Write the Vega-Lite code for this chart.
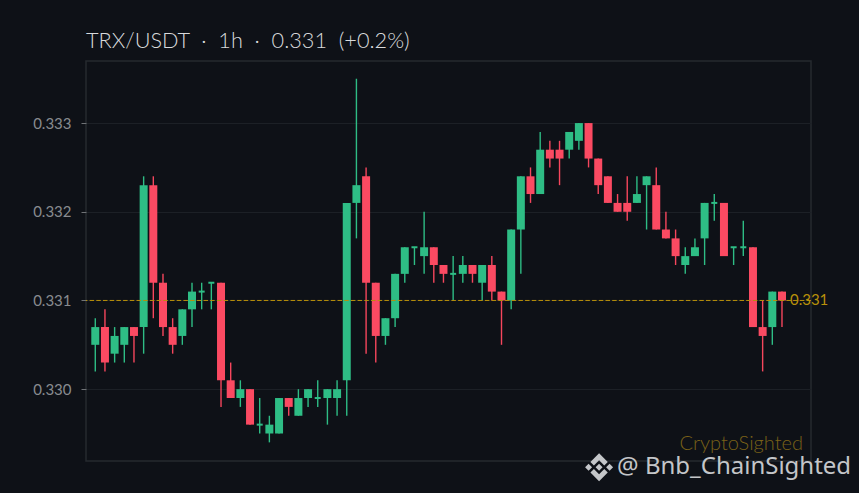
{
  "$schema": "https://vega.github.io/schema/vega-lite/v6.json",
  "width": 725,
  "height": 400,
  "autosize": "none",
  "padding": {"left": 86, "top": 61, "right": 48, "bottom": 32},
  "background": "#0e1117",
  "title": {
    "text": "TRX/USDT\u00a0\u00a0·\u00a0\u00a01h\u00a0\u00a0·\u00a0\u00a00.331\u00a0\u00a0(+0.2%)",
    "anchor": "start",
    "frame": "group",
    "color": "#d8dadc",
    "font": "Lato",
    "fontSize": 21.7,
    "fontWeight": 300,
    "offset": 8
  },
  "datasets": {
    "candles": [
      {"i":0,"open":0.3305,"high":0.3308,"low":0.3302,"close":0.3307},
      {"i":1,"open":0.3307,"high":0.3309,"low":0.3302,"close":0.3303},
      {"i":2,"open":0.3304,"high":0.3307,"low":0.3303,"close":0.3306},
      {"i":3,"open":0.3305,"high":0.3307,"low":0.3303,"close":0.3307},
      {"i":4,"open":0.3307,"high":0.3307,"low":0.3303,"close":0.3306},
      {"i":5,"open":0.3307,"high":0.3324,"low":0.3304,"close":0.3323},
      {"i":6,"open":0.3323,"high":0.3324,"low":0.3308,"close":0.3312},
      {"i":7,"open":0.3312,"high":0.3313,"low":0.3306,"close":0.3307},
      {"i":8,"open":0.3307,"high":0.3308,"low":0.3304,"close":0.3305},
      {"i":9,"open":0.3306,"high":0.3309,"low":0.3305,"close":0.3309},
      {"i":10,"open":0.3309,"high":0.3312,"low":0.3307,"close":0.3311},
      {"i":11,"open":0.3311,"high":0.3312,"low":0.3309,"close":0.3311},
      {"i":12,"open":0.3312,"high":0.3312,"low":0.3309,"close":0.3312},
      {"i":13,"open":0.3312,"high":0.3312,"low":0.3298,"close":0.3301},
      {"i":14,"open":0.3301,"high":0.3303,"low":0.3299,"close":0.3299},
      {"i":15,"open":0.3299,"high":0.3301,"low":0.3298,"close":0.33},
      {"i":16,"open":0.33,"high":0.33,"low":0.3296,"close":0.3296},
      {"i":17,"open":0.3296,"high":0.3299,"low":0.3295,"close":0.3296},
      {"i":18,"open":0.3295,"high":0.3297,"low":0.3294,"close":0.3296},
      {"i":19,"open":0.3295,"high":0.3299,"low":0.3295,"close":0.3299},
      {"i":20,"open":0.3299,"high":0.3299,"low":0.3297,"close":0.3298},
      {"i":21,"open":0.3297,"high":0.33,"low":0.3297,"close":0.3299},
      {"i":22,"open":0.3299,"high":0.33,"low":0.3298,"close":0.33},
      {"i":23,"open":0.3299,"high":0.3301,"low":0.3298,"close":0.3299},
      {"i":24,"open":0.3299,"high":0.33,"low":0.3296,"close":0.33},
      {"i":25,"open":0.3299,"high":0.3301,"low":0.3297,"close":0.33},
      {"i":26,"open":0.3301,"high":0.3321,"low":0.3297,"close":0.3321},
      {"i":27,"open":0.3321,"high":0.3335,"low":0.3317,"close":0.3323},
      {"i":28,"open":0.3324,"high":0.3325,"low":0.3304,"close":0.3312},
      {"i":29,"open":0.3312,"high":0.3312,"low":0.3303,"close":0.3306},
      {"i":30,"open":0.3306,"high":0.3308,"low":0.3305,"close":0.3308},
      {"i":31,"open":0.3308,"high":0.3313,"low":0.3307,"close":0.3313},
      {"i":32,"open":0.3313,"high":0.3316,"low":0.3312,"close":0.3316},
      {"i":33,"open":0.3316,"high":0.3316,"low":0.3314,"close":0.3316},
      {"i":34,"open":0.3315,"high":0.332,"low":0.3313,"close":0.3316},
      {"i":35,"open":0.3316,"high":0.3316,"low":0.3312,"close":0.3314},
      {"i":36,"open":0.3314,"high":0.3314,"low":0.3312,"close":0.3313},
      {"i":37,"open":0.3313,"high":0.3315,"low":0.331,"close":0.3313},
      {"i":38,"open":0.3313,"high":0.3315,"low":0.3312,"close":0.3314},
      {"i":39,"open":0.3314,"high":0.3314,"low":0.3312,"close":0.3313},
      {"i":40,"open":0.3312,"high":0.3314,"low":0.331,"close":0.3314},
      {"i":41,"open":0.3314,"high":0.3315,"low":0.331,"close":0.3311},
      {"i":42,"open":0.3311,"high":0.3311,"low":0.3305,"close":0.331},
      {"i":43,"open":0.331,"high":0.3318,"low":0.3309,"close":0.3318},
      {"i":44,"open":0.3318,"high":0.3324,"low":0.3313,"close":0.3324},
      {"i":45,"open":0.3324,"high":0.3325,"low":0.3321,"close":0.3322},
      {"i":46,"open":0.3322,"high":0.3329,"low":0.3322,"close":0.3327},
      {"i":47,"open":0.3327,"high":0.3328,"low":0.3325,"close":0.3326},
      {"i":48,"open":0.3327,"high":0.3328,"low":0.3323,"close":0.3326},
      {"i":49,"open":0.3327,"high":0.3329,"low":0.3326,"close":0.3329},
      {"i":50,"open":0.3328,"high":0.333,"low":0.3327,"close":0.333},
      {"i":51,"open":0.333,"high":0.333,"low":0.3325,"close":0.3326},
      {"i":52,"open":0.3326,"high":0.3326,"low":0.3322,"close":0.3323},
      {"i":53,"open":0.3324,"high":0.3324,"low":0.3321,"close":0.3321},
      {"i":54,"open":0.3321,"high":0.3322,"low":0.332,"close":0.332},
      {"i":55,"open":0.3321,"high":0.3324,"low":0.3319,"close":0.332},
      {"i":56,"open":0.3321,"high":0.3324,"low":0.3321,"close":0.3322},
      {"i":57,"open":0.3323,"high":0.3324,"low":0.3318,"close":0.3324},
      {"i":58,"open":0.3323,"high":0.3325,"low":0.3318,"close":0.3318},
      {"i":59,"open":0.3318,"high":0.332,"low":0.3317,"close":0.3317},
      {"i":60,"open":0.3317,"high":0.3318,"low":0.3314,"close":0.3315},
      {"i":61,"open":0.3314,"high":0.3316,"low":0.3313,"close":0.3315},
      {"i":62,"open":0.3315,"high":0.3317,"low":0.3315,"close":0.3316},
      {"i":63,"open":0.3317,"high":0.3321,"low":0.3314,"close":0.3321},
      {"i":64,"open":0.3321,"high":0.3322,"low":0.3319,"close":0.3321},
      {"i":65,"open":0.3321,"high":0.3321,"low":0.3315,"close":0.3315},
      {"i":66,"open":0.3316,"high":0.3316,"low":0.3314,"close":0.3316},
      {"i":67,"open":0.3316,"high":0.3319,"low":0.3315,"close":0.3316},
      {"i":68,"open":0.3316,"high":0.3316,"low":0.3307,"close":0.3307},
      {"i":69,"open":0.3307,"high":0.331,"low":0.3302,"close":0.3306},
      {"i":70,"open":0.3307,"high":0.3311,"low":0.3305,"close":0.3311},
      {"i":71,"open":0.3311,"high":0.3311,"low":0.3307,"close":0.331}
    ]
  },
  "layer": [
    {
      "data": {"name": "candles"},
      "mark": {"type": "rule", "strokeWidth": 1.4},
      "encoding": {
        "x": {"field": "i", "type": "quantitative", "scale": {"domain": [-0.96, 74], "nice": false, "zero": false, "padding": 0}, "axis": null},
        "y": {
          "field": "low",
          "type": "quantitative",
          "scale": {"domain": [0.32919, 0.3337], "zero": false, "nice": false, "padding": 0},
          "axis": {
            "title": null,
            "values": [0.33, 0.331, 0.332, 0.333],
            "format": ".3f",
            "domain": false,
            "grid": true,
            "gridColor": "#1c2026",
            "gridWidth": 1,
            "tickColor": "#6f7276",
            "tickSize": 5,
            "labelColor": "#888b8f",
            "labelFont": "Lato",
            "labelFontSize": 15,
            "labelPadding": 10
          }
        },
        "y2": {"field": "high"},
        "color": {
          "condition": {"test": "datum.close >= datum.open", "value": "#2ebd85"},
          "value": "#f6465d"
        }
      }
    },
    {
      "data": {"name": "candles"},
      "transform": [{"filter": "datum.open != datum.close"}],
      "mark": {"type": "bar", "size": 8},
      "encoding": {
        "x": {"field": "i", "type": "quantitative"},
        "y": {"field": "open", "type": "quantitative"},
        "y2": {"field": "close"},
        "color": {
          "condition": {"test": "datum.close >= datum.open", "value": "#2ebd85"},
          "value": "#fb4a62"
        }
      }
    },
    {
      "data": {"name": "candles"},
      "transform": [{"filter": "datum.open == datum.close"}],
      "mark": {"type": "tick", "orient": "horizontal", "size": 6, "thickness": 2, "color": "#2ebd85", "opacity": 1},
      "encoding": {
        "x": {"field": "i", "type": "quantitative"},
        "y": {"field": "close", "type": "quantitative"}
      }
    },
    {
      "data": {"values": [{"level": 0.331}]},
      "mark": {"type": "rule", "color": "#b8900a", "strokeWidth": 1, "strokeDash": [4.5, 2.2]},
      "encoding": {
        "y": {"field": "level", "type": "quantitative"}
      }
    },
    {
      "data": {"name": "candles"},
      "transform": [{"filter": "datum.i == 71"}],
      "mark": {"type": "text", "align": "left", "dx": 8, "color": "#b8900a", "font": "Lato", "fontSize": 15},
      "encoding": {
        "x": {"field": "i", "type": "quantitative"},
        "y": {"field": "close", "type": "quantitative"},
        "text": {"field": "close", "type": "quantitative", "format": ".3f"}
      }
    },
    {
      "data": {"values": [{"label": "CryptoSighted"}]},
      "mark": {"type": "text", "align": "right", "baseline": "middle", "color": "#7a6118", "font": "Lato", "fontSize": 20, "fontWeight": 300},
      "encoding": {
        "x": {"datum": 73.17, "type": "quantitative"},
        "y": {"datum": 0.32938, "type": "quantitative"},
        "text": {"field": "label"}
      }
    },
    {
      "data": {"values": [{"label": "@ Bnb_ChainSighted"}]},
      "mark": {"type": "text", "align": "right", "baseline": "middle", "color": "#c4c6c9", "font": "Noto Sans", "fontSize": 24},
      "encoding": {
        "x": {"datum": 78.15, "type": "quantitative"},
        "y": {"datum": 0.32912, "type": "quantitative"},
        "text": {"field": "label"}
      }
    },
    {
      "data": {"values": [{"label": "logo"}]},
      "mark": {
        "type": "point",
        "filled": true,
        "color": "#c4c6c9",
        "opacity": 1,
        "size": 784,
        "shape": "M0,-1L0.62,-0.38L0.37,-0.13L0,-0.5L-0.37,-0.13L-0.62,-0.38ZM0,1L0.62,0.38L0.37,0.13L0,0.5L-0.37,0.13L-0.62,0.38ZM-1,0L-0.75,-0.25L-0.5,0L-0.75,0.25ZM1,0L0.75,-0.25L0.5,0L0.75,0.25ZM0,-0.25L0.25,0L0,0.25L-0.25,0Z"
      },
      "encoding": {
        "x": {"datum": 52.09, "type": "quantitative"},
        "y": {"datum": 0.32912, "type": "quantitative"}
      }
    }
  ],
  "config": {
    "view": {"stroke": "#262a2f", "strokeWidth": 1.5}
  }
}
